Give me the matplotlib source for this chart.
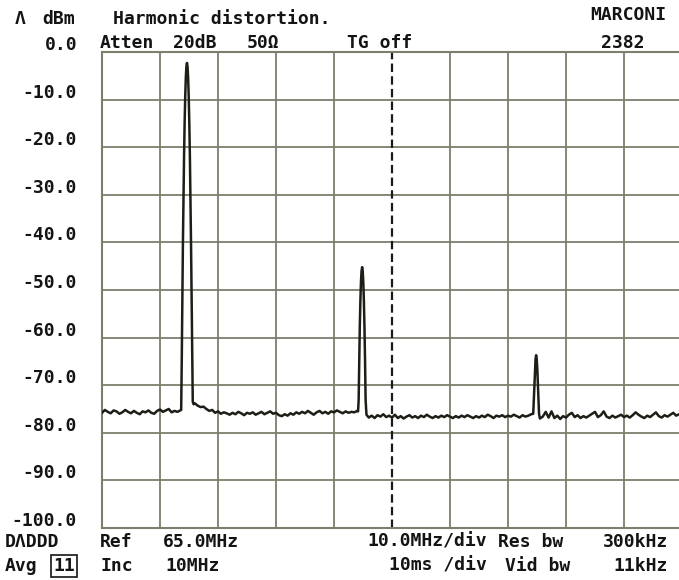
import matplotlib
matplotlib.use("Agg")
import matplotlib.pyplot as plt
import matplotlib.transforms as mtransforms

# ---------------- data ----------------
center_mhz = 65.0
mhz_per_div = 10.0
n_div = 10
ref_level_dbm = 0.0
db_per_div = 10.0

y_ticks = [0, -10, -20, -30, -40, -50, -60, -70, -80, -90, -100]
y_tick_labels = ["0.0", "-10.0", "-20.0", "-30.0", "-40.0", "-50.0",
                 "-60.0", "-70.0", "-80.0", "-90.0", "-100.0"]

# noise floor left of the fundamental
seg1_mhz = [15.0, 15.5, 16.0, 16.5, 17.0, 17.5, 18.0, 18.5, 19.0, 19.5, 20.0, 20.5,
            21.0, 21.5, 22.0, 22.5, 23.0, 23.5, 24.0, 24.5, 25.0, 25.5, 26.0, 26.5,
            27.0, 27.5, 28.0, 28.5]
seg1_dbm = [-75.8, -75.2, -75.6, -75.9, -75.3, -75.5, -76.0, -75.7, -75.2, -75.6, -75.9, -75.4,
            -75.8, -76.1, -75.5, -75.7, -75.3, -75.8, -76.0, -75.4, -75.1, -75.6, -75.3, -75.0,
            -75.7, -75.4, -75.6, -75.3]

# fundamental (30 MHz)
peak1_mhz = [28.65, 28.75, 28.85, 28.95, 29.05, 29.15, 29.25, 29.35, 29.45, 29.55, 29.65,
             29.75, 29.85, 29.95, 30.05, 30.15, 30.25, 30.35, 30.45, 30.55, 30.65]
peak1_dbm = [-75.2, -65.0, -52.0, -40.3, -30.2, -21.7, -14.7, -9.3, -5.4, -3.1, -2.3,
             -3.1, -5.4, -9.3, -14.7, -21.7, -30.2, -40.3, -52.0, -65.0, -73.5]

seg2_mhz = [30.8, 31.0, 31.5, 32.0, 32.5, 33.0, 33.5, 34.0, 34.5, 35.0, 35.5, 36.0, 36.5,
            37.0, 37.5, 38.0, 38.5, 39.0, 39.5, 40.0, 40.5, 41.0, 41.5, 42.0, 42.5, 43.0,
            43.5, 44.0, 44.5, 45.0, 45.5, 46.0, 46.5, 47.0, 47.5, 48.0, 48.5, 49.0, 49.5,
            50.0, 50.5, 51.0, 51.5, 52.0, 52.5, 53.0, 53.5, 54.0, 54.5, 55.0, 55.5, 56.0,
            56.5, 57.0, 57.5, 58.0, 58.5, 59.0]
seg2_dbm = [-74.0, -73.8, -74.3, -74.6, -74.5, -75.0, -75.4, -75.2, -75.8, -75.5, -76.0, -75.7, -75.9,
            -76.2, -75.8, -76.1, -75.6, -75.9, -76.3, -75.8, -76.0, -75.7, -76.2, -75.9, -75.6, -76.1,
            -75.8, -75.5, -76.0, -75.8, -76.3, -76.5, -76.1, -76.4, -75.9, -76.2, -75.7, -76.0, -75.6,
            -75.9, -75.4, -75.8, -76.2, -75.7, -75.4, -75.9, -75.6, -76.0, -75.5, -75.7, -75.3, -75.6,
            -75.9, -75.5, -75.8, -75.6, -75.7, -75.4]

# 2nd harmonic (60 MHz)
peak2_mhz = [59.15, 59.25, 59.35, 59.45, 59.55, 59.65, 59.75, 59.85, 59.95, 60.05, 60.15,
             60.25, 60.35, 60.45, 60.6]
peak2_dbm = [-75.5, -73.1, -64.6, -57.6, -52.2, -48.3, -46.0, -45.2, -46.0, -48.3, -52.2,
             -57.6, -64.6, -73.1, -76.2]

seg3_mhz = [60.8, 61.0, 61.5, 62.0, 62.5, 63.0, 63.5, 64.0, 64.5, 65.0, 65.5, 66.0, 66.5,
            67.0, 67.5, 68.0, 68.5, 69.0, 69.5, 70.0, 70.5, 71.0, 71.5, 72.0, 72.5, 73.0,
            73.5, 74.0, 74.5, 75.0, 75.5, 76.0, 76.5, 77.0, 77.5, 78.0, 78.5, 79.0, 79.5,
            80.0, 80.5, 81.0, 81.5, 82.0, 82.5, 83.0, 83.5, 84.0, 84.5, 85.0, 85.5, 86.0,
            86.5, 87.0, 87.5, 88.0, 88.5, 89.0]
seg3_dbm = [-76.5, -76.8, -76.4, -76.9, -76.3, -76.6, -76.1, -76.7, -76.4, -76.8, -76.2, -76.9, -76.5,
            -77.0, -76.6, -76.3, -76.8, -76.5, -76.9, -76.4, -76.7, -76.2, -76.6, -76.9, -76.5, -76.8,
            -76.4, -76.7, -76.3, -76.6, -76.9, -76.5, -76.8, -76.4, -76.7, -76.3, -76.6, -76.9, -76.5,
            -76.8, -76.4, -76.7, -76.2, -76.5, -76.9, -76.4, -76.6, -76.3, -76.7, -76.4, -76.6, -76.2,
            -76.5, -76.8, -76.3, -76.6, -76.4, -76.1]

# 3rd harmonic (90 MHz)
peak3_mhz = [89.35, 89.45, 89.55, 89.65, 89.75, 89.85, 89.95, 90.05, 90.15, 90.25, 90.35]
peak3_dbm = [-76.0, -73.0, -69.5, -66.5, -64.5, -63.7, -64.5, -66.5, -69.5, -73.0, -76.0]

seg4_mhz = [90.5, 91.0, 91.5, 92.0, 92.5, 93.0, 93.5, 94.0, 94.5, 95.0, 95.5, 96.0, 96.5,
            97.0, 97.5, 98.0, 98.5, 99.0, 99.5, 100.0, 100.5, 101.0, 101.5, 102.0, 102.5,
            103.0, 103.5, 104.0, 104.5, 105.0, 105.5, 106.0, 106.5, 107.0, 107.5, 108.0,
            108.5, 109.0, 109.5, 110.0, 110.5, 111.0, 111.5, 112.0, 112.5, 113.0, 113.5,
            114.0, 114.5, 115.0]
seg4_dbm = [-77.0, -76.6, -75.6, -76.8, -75.5, -76.9, -76.4, -77.1, -76.5, -76.8, -76.2, -75.8, -76.7,
            -76.3, -76.9, -76.5, -76.8, -76.4, -76.0, -75.6, -76.7, -76.3, -75.5, -76.6, -76.9,
            -76.4, -76.8, -76.5, -76.2, -76.7, -76.4, -76.8, -76.3, -75.7, -76.2, -76.6,
            -76.9, -76.4, -76.7, -76.2, -75.7, -76.5, -76.8, -76.3, -76.6, -76.2, -75.8,
            -76.4, -76.1, -76.3]

trace_mhz = seg1_mhz + peak1_mhz + seg2_mhz + peak2_mhz + seg3_mhz + peak3_mhz + seg4_mhz
trace_dbm = seg1_dbm + peak1_dbm + seg2_dbm + peak2_dbm + seg3_dbm + peak3_dbm + seg4_dbm

# ---------------- figure ----------------
W, H = 679, 580
plt.rcParams['font.family'] = ['DejaVu Sans Mono', 'DejaVu Sans']
FS = 13
TXT = '#141414'
GRID = '#7e7e6c'

fig = plt.figure(figsize=(W / 100, H / 100), dpi=100)
fig.patch.set_facecolor('white')
# plot frame: left 102 px, top 52 px, 58 px/div horizontally (right edge beyond image)
ax = fig.add_axes([102 / W, (H - 528) / H, 580 / W, 476 / H])

start = center_mhz - mhz_per_div * n_div / 2
stop = center_mhz + mhz_per_div * n_div / 2
bottom = ref_level_dbm - db_per_div * n_div
ax.set_xlim(start, stop)
ax.set_ylim(bottom, ref_level_dbm)

for i in range(1, n_div):
    f = start + i * mhz_per_div
    if abs(f - center_mhz) < 1e-6:
        ax.axvline(f, color='#1a1a1a', lw=1.6, dashes=(3.8, 1.9), zorder=2)
    else:
        ax.axvline(f, color=GRID, lw=1.3, zorder=1)
for i in range(1, n_div):
    ax.axhline(ref_level_dbm - i * db_per_div, color=GRID, lw=1.3, zorder=1)

for s in ax.spines.values():
    s.set_color(GRID)
    s.set_linewidth(1.5)

ax.plot(trace_mhz, trace_dbm, color='#1e1e16', lw=1.8, zorder=3, solid_joinstyle='round')

ax.set_xticks([])
ax.set_yticks(y_ticks)
ax.set_yticklabels(y_tick_labels, fontsize=FS, fontweight='bold', color=TXT)
ax.tick_params(axis='y', length=0, pad=18)
offset = mtransforms.ScaledTranslation(0, 9 / 100, fig.dpi_scale_trans)
for lab in ax.get_yticklabels():
    lab.set_transform(lab.get_transform() + offset)


def put(x, y, s, ha='left', **kw):
    fig.text(x / W, 1 - y / H, s, ha=ha, va='center', fontsize=FS,
             fontweight='bold', color=TXT, **kw)


# header
put(15, 19, "Λ")
put(42, 19, "dBm")
put(113, 19, "Harmonic distortion.")
put(666, 15, "MARCONI", ha='right')
put(100, 43, "Atten")
put(173, 43, "20dB")
put(247, 43, "50Ω")
put(347, 43, "TG off")
put(645, 43, "2382", ha='right')

# footer row 1
put(5, 542, "DΛDDD")
put(100, 542, "Ref")
put(163, 542, "65.0MHz")
put(487, 542, "10.0MHz/div", ha='right')
put(498, 542, "Res bw")
put(668, 542, "300kHz", ha='right')

# footer row 2
put(5, 566, "Avg")
put(64, 566, "11", ha='center',
    bbox=dict(boxstyle='square,pad=0.1', fc='white', ec=TXT, lw=1.2))
put(100, 566, "Inc")
put(165, 566, "10MHz")
put(487, 566, "10ms /div", ha='right')
put(505, 566, "Vid bw")
put(668, 566, "11kHz", ha='right')

fig.savefig("out.png", dpi=100, facecolor='white')
